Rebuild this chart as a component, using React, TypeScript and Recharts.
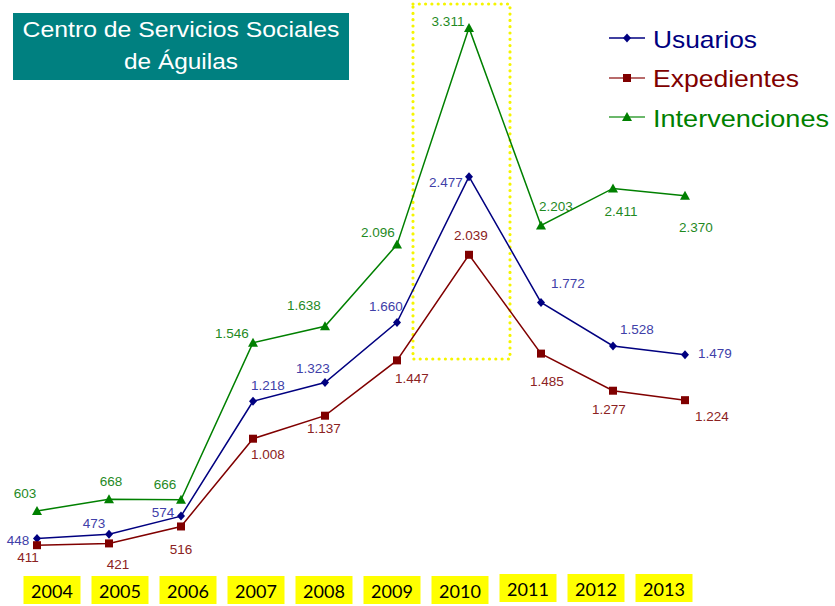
import React from 'react';
import { LineChart, Line, XAxis, YAxis, LabelList } from 'recharts';

const years = ['2004', '2005', '2006', '2007', '2008', '2009', '2010', '2011', '2012', '2013'];
const usuarios = [448, 473, 574, 1218, 1323, 1660, 2477, 1772, 1528, 1479];
const expedientes = [411, 421, 516, 1008, 1137, 1447, 2039, 1485, 1277, 1224];
const intervenciones = [603, 668, 666, 1546, 1638, 2096, 3311, 2203, 2411, 2370];

// label placement offsets (layout only)
const uOff = [[-19, 2], [-15, -11], [-18, -4], [15, -16], [-12, -14], [-11, -16], [-23, 6], [27, -19], [24, -16], [30, -1]];
const eOff = [[-9, 12], [9, 21], [0, 23], [15, 16], [-1, 13], [15, 18], [2, -19], [6, 28], [-4, 19], [27, 16]];
const iOff = [[-12, -17], [2, -18], [-16, -15], [-21, -9], [-21, -21], [-19, -12], [-21, -6], [15, -19], [8, 23], [11, 32]];

const data = years.map((y, i) => ({
  year: y,
  usuarios: usuarios[i],
  expedientes: expedientes[i],
  intervenciones: intervenciones[i],
}));

const C_U = '#000080';
const C_E = '#800000';
const C_I = '#008000';
const L_U = '#4040a8';
const L_E = '#8b2222';
const L_I = '#1f8a1f';

const fmt = (n: number) =>
  n >= 1000 ? `${Math.floor(n / 1000)}.${String(n % 1000).padStart(3, '0')}` : String(n);

const makeLabel = (offs: number[][], color: string) => (props: any) => {
  const vb = props.viewBox || {};
  const x = props.x ?? vb.x;
  const y = props.y ?? vb.y;
  const i = props.index ?? 0;
  const o = offs[i] || [0, 0];
  return (
    <text
      x={x + o[0]}
      y={y + o[1]}
      textAnchor="middle"
      dominantBaseline="central"
      fill={color}
      fontSize={13.5}
      fontFamily="'Liberation Sans', Arial, sans-serif"
    >
      {fmt(props.value)}
    </text>
  );
};

const Diamond = (p: any) => {
  const { cx, cy } = p;
  if (cx == null || cy == null) return null;
  return <polygon key={`d${p.index}`} points={`${cx},${cy - 4.5} ${cx + 4},${cy} ${cx},${cy + 4.5} ${cx - 4},${cy}`} fill={C_U} />;
};
const Square = (p: any) => {
  const { cx, cy } = p;
  if (cx == null || cy == null) return null;
  return <rect key={`s${p.index}`} x={cx - 4} y={cy - 4} width={8} height={8} fill={C_E} />;
};
const Triangle = (p: any) => {
  const { cx, cy } = p;
  if (cx == null || cy == null) return null;
  return <polygon key={`t${p.index}`} points={`${cx},${cy - 5} ${cx + 5},${cy + 4} ${cx - 5},${cy + 4}`} fill={C_I} />;
};

const YearTick = (props: any) => {
  const { x, y, payload, index } = props;
  const lift = index >= 7 ? -2 : 0;
  return (
    <g>
      <rect x={x - 28.5} y={y + 11 + lift} width={57} height={28} fill="#ffff00" />
      <text
        x={x}
        y={y + 33 + lift}
        textAnchor="middle"
        fill="#000"
        fontSize={18}
        fontFamily="Lato, 'Open Sans', sans-serif"
      >
        {payload.value}
      </text>
    </g>
  );
};

const sans = "'Liberation Sans', Arial, sans-serif";

export default function App() {
  return (
    <div style={{ position: 'absolute', left: 0, top: 0, width: 835, height: 606, background: '#fff' }}>
      <svg width={835} height={606} style={{ position: 'absolute', left: 0, top: 0 }}>
        <rect x={13} y={13} width={336} height={67} fill="#008080" />
        <text x={181} y={37} textAnchor="middle" fill="#fff" fontSize={22} fontFamily={sans} textLength={317} lengthAdjust="spacingAndGlyphs">
          Centro de Servicios Sociales
        </text>
        <text x={181} y={69} textAnchor="middle" fill="#fff" fontSize={22} fontFamily={sans} textLength={114} lengthAdjust="spacingAndGlyphs">
          de Águilas
        </text>
        <rect x={413} y={4} width={97} height={355} fill="none" stroke="#f5f500" strokeWidth={3.2} strokeDasharray="0 6.3" strokeLinecap="round" />

        <line x1={609} y1={38} x2={645} y2={38} stroke={C_U} strokeWidth={1.5} />
        <polygon points="627,33.5 631,38 627,42.5 623,38" fill={C_U} />
        <text x={653} y={48} fill={C_U} fontSize={24} fontFamily={sans} textLength={104} lengthAdjust="spacingAndGlyphs">Usuarios</text>

        <line x1={609} y1={78} x2={645} y2={78} stroke="#a03a3a" strokeWidth={1.5} />
        <rect x={623} y={74} width={8} height={8} fill={C_E} />
        <text x={653} y={87} fill={C_E} fontSize={24} fontFamily={sans} textLength={146} lengthAdjust="spacingAndGlyphs">Expedientes</text>

        <line x1={609} y1={117} x2={645} y2={117} stroke="#3aa03a" strokeWidth={1.5} />
        <polygon points="627,112 632,121 622,121" fill={C_I} />
        <text x={653} y={127} fill={C_I} fontSize={24} fontFamily={sans} textLength={176} lengthAdjust="spacingAndGlyphs">Intervenciones</text>
      </svg>
      <div style={{ position: 'absolute', left: 0, top: 0 }}>
        <LineChart width={835} height={606} data={data} margin={{ top: 12, right: 150, left: 37, bottom: 0 }}>
          <XAxis xAxisId="main" dataKey="year" hide />
          <XAxis
            xAxisId="labels"
            dataKey="year"
            height={41}
            padding={{ left: 15, right: 21 }}
            axisLine={false}
            tickLine={false}
            tickSize={0}
            tickMargin={0}
            interval={0}
            tick={<YearTick />}
          />
          <YAxis hide domain={[300, 3400]} allowDataOverflow />
          <Line xAxisId="main" type="linear" dataKey="intervenciones" stroke={C_I} strokeWidth={1.5} dot={Triangle} activeDot={false} isAnimationActive={false}>
            <LabelList dataKey="intervenciones" content={makeLabel(iOff, L_I)} />
          </Line>
          <Line xAxisId="main" type="linear" dataKey="usuarios" stroke={C_U} strokeWidth={1.5} dot={Diamond} activeDot={false} isAnimationActive={false}>
            <LabelList dataKey="usuarios" content={makeLabel(uOff, L_U)} />
          </Line>
          <Line xAxisId="main" type="linear" dataKey="expedientes" stroke={C_E} strokeWidth={1.5} dot={Square} activeDot={false} isAnimationActive={false}>
            <LabelList dataKey="expedientes" content={makeLabel(eOff, L_E)} />
          </Line>
        </LineChart>
      </div>
    </div>
  );
}
